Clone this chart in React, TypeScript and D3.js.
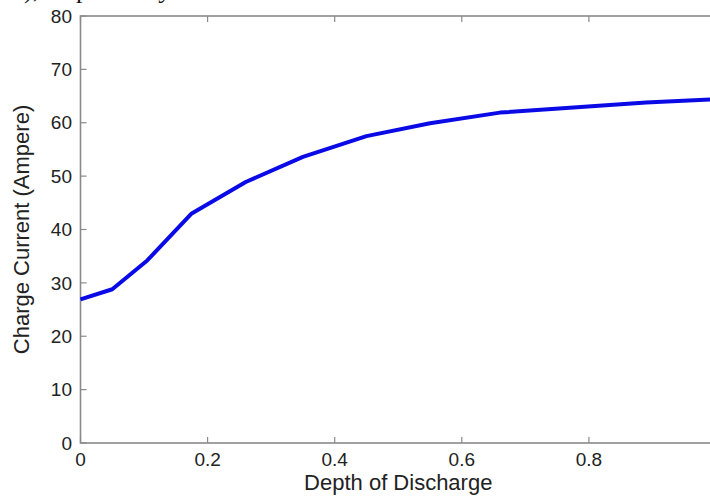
import React from "react";
import * as d3 from "d3";

const depth = [0, 0.05, 0.105, 0.175, 0.26, 0.35, 0.45, 0.55, 0.66, 0.77, 0.89, 1.0];
const current = [26.9, 28.8, 34.2, 43.0, 48.9, 53.6, 57.5, 59.9, 61.9, 62.8, 63.8, 64.4];
const xTicks = [0, 0.2, 0.4, 0.6, 0.8];
const yTicks = [0, 10, 20, 30, 40, 50, 60, 70, 80];

const W = 710, H = 496;
const L = 80.5, R = 716, T = 16, B = 443;

export default function App() {
  const x = d3.scaleLinear().domain([0, 1]).range([L, R]);
  const y = d3.scaleLinear().domain([0, 80]).range([B, T]);
  const line = d3.line<number>().x((_, i) => x(depth[i])).y((d) => y(d));
  const axisColor = "#8a8a8a";
  const textColor = "#222";
  const tk = 6;
  return (
    <svg width={W} height={H} style={{ position: "absolute", left: 0, top: 0, background: "#fff" }}
      fontFamily="'Liberation Sans', Arial, sans-serif">
      <rect x={0} y={0} width={W} height={H} fill="#fff" />
      <text x={24} y={-2} fontFamily="'Liberation Serif', 'Times New Roman', serif" fontSize={26} fill="#111">
        ), respectively
      </text>
      <rect x={L} y={T} width={R - L} height={B - T} fill="none" stroke={axisColor} strokeWidth={1.6} />
      {xTicks.map((t) => (
        <g key={"x" + t}>
          <line x1={x(t)} x2={x(t)} y1={B} y2={B - tk} stroke={axisColor} strokeWidth={1.2} />
          <line x1={x(t)} x2={x(t)} y1={T} y2={T + tk} stroke={axisColor} strokeWidth={1.2} />
          <text x={x(t)} y={466} textAnchor="middle" fontSize={19} fill={textColor}>{String(t)}</text>
        </g>
      ))}
      {yTicks.map((t) => (
        <g key={"y" + t}>
          <line x1={L} x2={L + tk} y1={y(t)} y2={y(t)} stroke={axisColor} strokeWidth={1.2} />
          <line x1={R} x2={R - tk} y1={y(t)} y2={y(t)} stroke={axisColor} strokeWidth={1.2} />
          <text x={72} y={y(t)} dy="0.35em" textAnchor="end" fontSize={19} fill={textColor}>{t}</text>
        </g>
      ))}
      <path d={line(current) || ""} fill="none" stroke="#0a0ae6" strokeWidth={4} strokeLinejoin="round" />
      <text x={(L + R) / 2} y={490} textAnchor="middle" fontSize={22} fill={textColor}>Depth of Discharge</text>
      <text transform={`translate(29,${(T + B) / 2}) rotate(-90)`} textAnchor="middle" fontSize={22} fill={textColor}>
        Charge Current (Ampere)
      </text>
    </svg>
  );
}
